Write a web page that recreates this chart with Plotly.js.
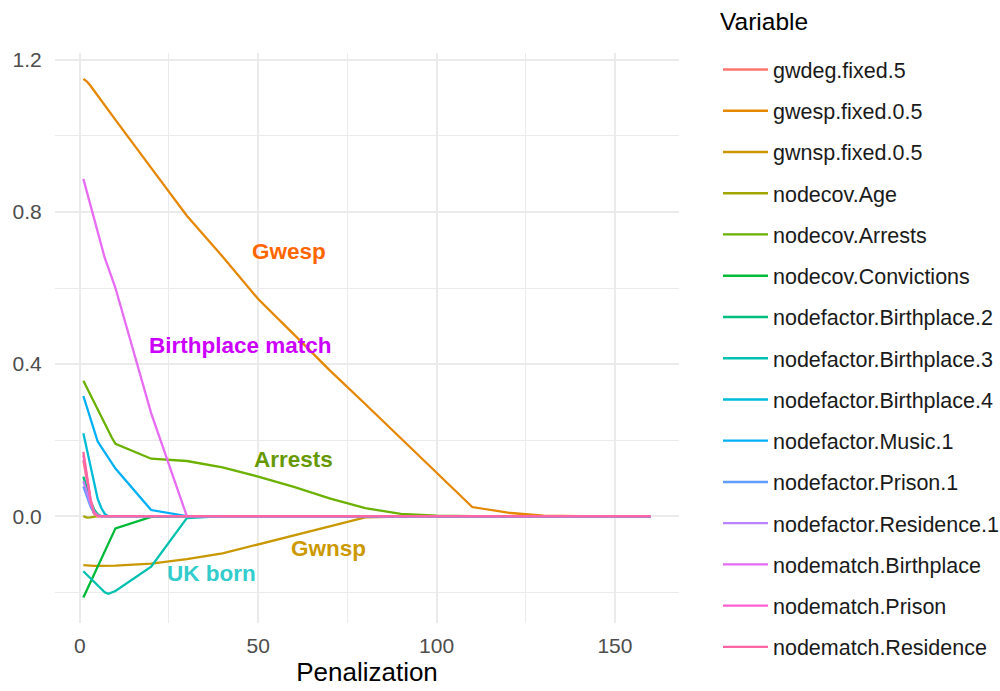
<!DOCTYPE html>
<html>
<head>
<meta charset="utf-8">
<script src="https://cdn.plot.ly/plotly-3.0.1.min.js"></script>
<style>html,body{margin:0;padding:0;background:#fff;}#chart{width:1000px;height:691px;}</style>
</head>
<body>
<div id="chart"></div>
<script>
// Penalization grid
var penalization = [1,2,3,4,5,6,7,8,9,10,20,30,40,50,60,70,80,90,100,110,120,130,140,150,160];

// Coefficient paths (one array per variable)
var gwdeg_fixed_5            = [0.147,0.090,0.040,0.007,0,0,0,0,0,0,0,0,0,0,0,0,0,0,0,0,0,0,0,0,0];
var gwesp_fixed_0_5          = [1.150,1.143,1.132,1.119,1.106,1.093,1.080,1.068,1.055,1.042,0.916,0.790,0.683,0.571,0.478,0.384,0.295,0.205,0.116,0.024,0.009,0.001,0,0,0];
var gwnsp_fixed_0_5          = [-0.129,-0.130,-0.130,-0.131,-0.131,-0.131,-0.131,-0.131,-0.130,-0.130,-0.125,-0.113,-0.098,-0.074,-0.050,-0.027,-0.003,-0.001,0,0,0,0,0,0,0];
var nodecov_Age              = [0,-0.004,-0.003,-0.001,0,0,0,0,0,0,0,0,0,0,0,0,0,0,0,0,0,0,0,0,0];
var nodecov_Arrests          = [0.356,0.337,0.318,0.299,0.279,0.260,0.241,0.223,0.206,0.190,0.151,0.145,0.128,0.104,0.077,0.047,0.021,0.006,0.001,0,0,0,0,0,0];
var nodecov_Convictions      = [-0.214,-0.194,-0.174,-0.154,-0.133,-0.113,-0.093,-0.073,-0.053,-0.032,-0.002,0,0,0,0,0,0,0,0,0,0,0,0,0,0];
var nodefactor_Birthplace_2  = [0.104,0.070,0.040,0.018,0.005,0,0,0,0,0,0,0,0,0,0,0,0,0,0,0,0,0,0,0,0];
var nodefactor_Birthplace_3  = [-0.145,-0.154,-0.164,-0.173,-0.182,-0.192,-0.200,-0.204,-0.201,-0.197,-0.133,-0.005,0,0,0,0,0,0,0,0,0,0,0,0,0];
var nodefactor_Birthplace_4  = [0.218,0.174,0.130,0.086,0.046,0.022,0.006,0,0,0,0,0,0,0,0,0,0,0,0,0,0,0,0,0,0];
var nodefactor_Music_1       = [0.316,0.285,0.255,0.224,0.197,0.182,0.167,0.152,0.137,0.125,0.016,0,0,0,0,0,0,0,0,0,0,0,0,0,0];
var nodefactor_Prison_1      = [0.078,0.050,0.025,0.008,0.001,0,0,0,0,0,0,0,0,0,0,0,0,0,0,0,0,0,0,0,0];
var nodefactor_Residence_1   = [0.092,0.060,0.032,0.012,0.002,0,0,0,0,0,0,0,0,0,0,0,0,0,0,0,0,0,0,0,0];
var nodematch_Birthplace     = [0.887,0.852,0.818,0.783,0.749,0.714,0.679,0.653,0.627,0.600,0.271,0,0,0,0,0,0,0,0,0,0,0,0,0,0];
var nodematch_Prison         = [0.160,0.097,0.043,0.008,0,0,0,0,0,0,0,0,0,0,0,0,0,0,0,0,0,0,0,0,0];
var nodematch_Residence      = [0.169,0.100,0.045,0.008,0,0,0,0,0,0,0,0,0,0,0,0,0,0,0,0,0,0,0,0,0];

var variableNames = ["gwdeg.fixed.5","gwesp.fixed.0.5","gwnsp.fixed.0.5","nodecov.Age","nodecov.Arrests",
  "nodecov.Convictions","nodefactor.Birthplace.2","nodefactor.Birthplace.3","nodefactor.Birthplace.4",
  "nodefactor.Music.1","nodefactor.Prison.1","nodefactor.Residence.1","nodematch.Birthplace",
  "nodematch.Prison","nodematch.Residence"];
var variableValues = [gwdeg_fixed_5,gwesp_fixed_0_5,gwnsp_fixed_0_5,nodecov_Age,nodecov_Arrests,
  nodecov_Convictions,nodefactor_Birthplace_2,nodefactor_Birthplace_3,nodefactor_Birthplace_4,
  nodefactor_Music_1,nodefactor_Prison_1,nodefactor_Residence_1,nodematch_Birthplace,
  nodematch_Prison,nodematch_Residence];
var colors = ["#F8766D","#E58700","#C99800","#A3A500","#6BB100","#00BA38","#00BF7D","#00C0AF",
  "#00BCD8","#00B0F6","#619CFF","#B983FF","#E76BF3","#FD61D1","#FF67A4"];

var legendTitle = "Variable";

// Text labels
var labelTexts  = ["Gwesp","Birthplace match","Arrests","Gwnsp","UK born"];
var labelX      = [58.6, 45, 60, 69.8, 36.8];
var labelY      = [0.695, 0.448, 0.148, -0.084, -0.152];
var labelColors = ["#FF6600","#CC00FF","#669900","#CC9900","#33CCCC"];

var FONT = "Liberation Sans, Arial, Helvetica, sans-serif";

var traces = variableNames.map(function(n, i){
  return {
    type: "scatter", mode: "lines", name: n, legendgroup: n,
    x: penalization, y: variableValues[i],
    line: {color: colors[i], width: 2.3},
    hoverinfo: "skip"
  };
});

var annotations = labelTexts.map(function(t, i){
  return {
    x: labelX[i], y: labelY[i], xref: "x", yref: "y", text: "<b>" + t + "</b>",
    showarrow: false, xanchor: "center", yanchor: "middle",
    font: {family: FONT, size: 22.5, color: labelColors[i]}
  };
});
// legend title, placed just above the legend entries
annotations.push({
  x: 1.0625, y: 1.0544, xref: "paper", yref: "paper", text: legendTitle,
  showarrow: false, xanchor: "left", yanchor: "middle",
  font: {family: FONT, size: 24.5, color: "#000000"}
});

var layout = {
  width: 1000, height: 691,
  margin: {l: 55, r: 321, t: 53, b: 68},
  paper_bgcolor: "#ffffff", plot_bgcolor: "#ffffff",
  font: {family: FONT},
  showlegend: true,
  legend: {
    xref: "container", yref: "container",
    x: 0.718, y: 1 - 49/691, xanchor: "left", yanchor: "top",
    maxheight: 680,
    font: {family: FONT, size: 21.5, color: "#1a1a1a"},
    tracegroupgap: 10.3, itemwidth: 45,
    bgcolor: "rgba(0,0,0,0)"
  },
  xaxis: {
    range: [-6.95, 167.95], dtick: 50, tick0: 0,
    showgrid: true, gridcolor: "#EBEBEB", gridwidth: 2,
    minor: {dtick: 25, tick0: 0, showgrid: true, gridcolor: "#EBEBEB", gridwidth: 1},
    zeroline: false, showline: false,
    ticks: "outside", ticklen: 4, tickcolor: "rgba(0,0,0,0)",
    tickfont: {family: FONT, size: 21, color: "#4D4D4D"},
    title: {text: "Penalization", font: {family: FONT, size: 26, color: "#000000"}, standoff: 5}
  },
  yaxis: {
    range: [-0.281, 1.218], dtick: 0.4, tick0: 0, tickformat: ".1f",
    showgrid: true, gridcolor: "#EBEBEB", gridwidth: 2,
    minor: {dtick: 0.2, tick0: 0, showgrid: true, gridcolor: "#EBEBEB", gridwidth: 1},
    zeroline: false, showline: false,
    ticks: "outside", ticklen: 8, tickcolor: "rgba(0,0,0,0)",
    tickfont: {family: FONT, size: 21, color: "#4D4D4D"}
  },
  annotations: annotations
};

Plotly.newPlot("chart", traces, layout, {staticPlot: true, displayModeBar: false});
</script>
</body>
</html>
